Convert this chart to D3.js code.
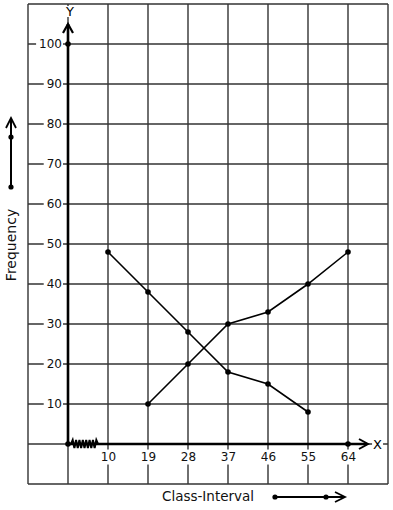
<!DOCTYPE html>
<html><head><meta charset="utf-8">
<script src="https://cdn.jsdelivr.net/npm/d3@7"></script>
<style>
html,body{margin:0;padding:0;background:#fff;}
svg{display:block;font-family:"DejaVu Sans",sans-serif;}
</style></head>
<body>
<svg id="c" width="393" height="510"></svg>
<script>
const categories = ["10","19","28","37","46","55","64"];
const seriesDecreasing = [48,38,28,18,15,8,null];
const seriesIncreasing = [null,10,20,30,33,40,48];
const yTicks = [10,20,30,40,50,60,70,80,90,100];
const yLabel = "Frequency";
const xLabel = "Class-Interval";

const svg = d3.select("#c");
const x = d3.scaleLinear().domain([-1, 8]).range([28, 388]);
const y = d3.scaleLinear().domain([-10, 110]).range([484, 4]);
const gridCol = "#333";

// grid
const g = svg.append("g");
g.selectAll("line.v").data(d3.range(-1, 9)).join("line")
  .attr("x1", d => x(d)).attr("x2", d => x(d)).attr("y1", y(110)).attr("y2", y(-10))
  .attr("stroke", gridCol).attr("stroke-width", 1.4);
g.selectAll("line.h").data(d3.range(-10, 111, 10)).join("line")
  .attr("y1", d => y(d)).attr("y2", d => y(d)).attr("x1", x(-1)).attr("x2", x(8))
  .attr("stroke", gridCol).attr("stroke-width", 1.4);

// y tick labels
const ya = svg.append("g").attr("transform", `translate(${x(0)},0)`)
  .call(d3.axisLeft(y).tickValues(yTicks).tickSize(0).tickPadding(6));
ya.select(".domain").remove();
ya.selectAll("text").attr("font-size", 12).attr("font-family", "DejaVu Sans").attr("fill", "#111");
ya.selectAll(".tick").each(function() {
  const t = d3.select(this).select("text");
  const b = t.node().getBBox();
  d3.select(this).insert("rect", "text").attr("x", b.x - 3).attr("y", b.y + 2)
    .attr("width", b.width + 4).attr("height", b.height - 4).attr("fill", "#fff");
});

// x tick labels
const xa = svg.append("g").attr("transform", `translate(0,${y(0)})`)
  .call(d3.axisBottom(x).tickValues(d3.range(1, 8)).tickFormat(i => categories[i - 1]).tickSize(0).tickPadding(8));
xa.select(".domain").remove();
xa.selectAll("text").attr("font-size", 12).attr("font-family", "DejaVu Sans").attr("fill", "#111");
xa.selectAll(".tick").each(function() {
  const t = d3.select(this).select("text");
  const b = t.node().getBBox();
  d3.select(this).insert("rect", "text").attr("x", b.x - 2).attr("y", b.y)
    .attr("width", b.width + 4).attr("height", b.height + 1).attr("fill", "#fff");
});

// axes
const ax = svg.append("g").attr("stroke", "#000").attr("fill", "none");
ax.append("line").attr("x1", x(0)).attr("x2", x(0)).attr("y1", y(0)).attr("y2", 24).attr("stroke-width", 2.6);
ax.append("path").attr("d", `M${x(0) - 5},33 L${x(0)},24 L${x(0) + 5},33`).attr("stroke-width", 2.2);
ax.append("line").attr("x1", x(0)).attr("x2", 367).attr("y1", y(0)).attr("y2", y(0)).attr("stroke-width", 2.6);
ax.append("path").attr("d", `M359,${y(0) - 5} L368,${y(0)} L359,${y(0) + 5}`).attr("stroke-width", 2);

// zigzag break
const zx0 = x(0) + 3, zx1 = x(1) - 10, n = 16;
const zz = d3.range(n + 1).map(i => [zx0 + (zx1 - zx0) * i / n, y(0) + (i === 0 || i === n ? 0 : (i % 2 ? -4 : 4))]);
ax.append("path").attr("d", d3.line()(zz)).attr("stroke-width", 2);

// axis letters
const letterBg = (tx, ty, s) => {
  const t = svg.append("text").attr("x", tx).attr("y", ty).attr("font-size", 13).attr("text-anchor", "middle").text(s);
  const b = t.node().getBBox();
  svg.insert("rect", () => t.node()).attr("x", b.x - 1).attr("y", b.y + 2).attr("width", b.width + 2).attr("height", b.height - 4).attr("fill", "#fff");
};
letterBg(x(0) + 2, 16, "Y");
letterBg(377.5, y(0) + 4.5, "X");

// dots on axes
svg.selectAll("circle.ax").data([[0, 0], [0, 100], [7, 0]]).join("circle")
  .attr("cx", d => x(d[0])).attr("cy", d => y(d[1])).attr("r", 2.8).attr("fill", "#000");

// series
const mk = arr => arr.map((v, i) => ({ i: i + 1, v })).filter(d => d.v !== null);
const line = d3.line().x(d => x(d.i)).y(d => y(d.v));
[seriesDecreasing, seriesIncreasing].forEach(s => {
  const pts = mk(s);
  svg.append("path").attr("d", line(pts)).attr("fill", "none").attr("stroke", "#000").attr("stroke-width", 1.6);
  svg.append("g").selectAll("circle").data(pts).join("circle")
    .attr("cx", d => x(d.i)).attr("cy", d => y(d.v)).attr("r", 2.8).attr("fill", "#000");
});

// axis titles
svg.append("text").attr("transform", "translate(16,245) rotate(-90)").attr("text-anchor", "middle")
  .attr("font-size", 14).attr("fill", "#111").text(yLabel);
svg.append("text").attr("x", 208).attr("y", 501).attr("text-anchor", "middle")
  .attr("font-size", 13.5).attr("fill", "#111").text(xLabel);

// title arrows
const la = svg.append("g").attr("stroke", "#000").attr("fill", "none");
la.append("line").attr("x1", 11).attr("x2", 11).attr("y1", 187).attr("y2", 118).attr("stroke-width", 2);
la.append("path").attr("d", "M6,128 L11,118 L16,128").attr("stroke-width", 1.8);
la.append("line").attr("x1", 275).attr("x2", 345).attr("y1", 497).attr("y2", 497).attr("stroke-width", 2);
la.append("path").attr("d", "M335,492 L345,497 L335,502").attr("stroke-width", 1.8);
svg.selectAll("circle.lg").data([[11, 137], [11, 187], [275, 497], [326, 497]]).join("circle")
  .attr("cx", d => d[0]).attr("cy", d => d[1]).attr("r", 2.6).attr("fill", "#000");
</script>
</body></html>
